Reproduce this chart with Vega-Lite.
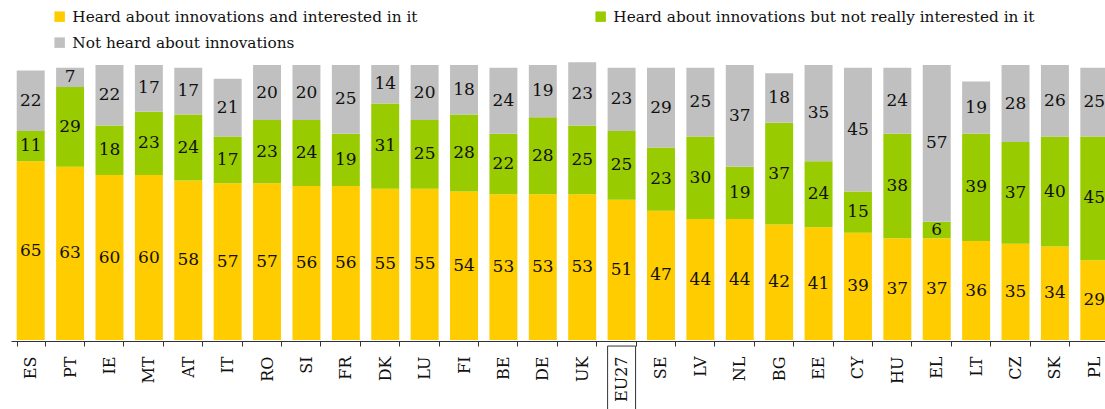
{
  "$schema": "https://vega.github.io/schema/vega-lite/v6.json",
  "width": 1094,
  "height": 275,
  "autosize": {"type": "none"},
  "padding": {"left": 11, "top": 65, "right": 0, "bottom": 69},
  "background": "white",
  "config": {"view": {"stroke": null}},
  "data": {
    "values": [
      {"c": "ES", "Heard about innovations and interested in it": 65, "Heard about innovations but not really interested in it": 11, "Not heard about innovations": 22},
      {"c": "PT", "Heard about innovations and interested in it": 63, "Heard about innovations but not really interested in it": 29, "Not heard about innovations": 7},
      {"c": "IE", "Heard about innovations and interested in it": 60, "Heard about innovations but not really interested in it": 18, "Not heard about innovations": 22},
      {"c": "MT", "Heard about innovations and interested in it": 60, "Heard about innovations but not really interested in it": 23, "Not heard about innovations": 17},
      {"c": "AT", "Heard about innovations and interested in it": 58, "Heard about innovations but not really interested in it": 24, "Not heard about innovations": 17},
      {"c": "IT", "Heard about innovations and interested in it": 57, "Heard about innovations but not really interested in it": 17, "Not heard about innovations": 21},
      {"c": "RO", "Heard about innovations and interested in it": 57, "Heard about innovations but not really interested in it": 23, "Not heard about innovations": 20},
      {"c": "SI", "Heard about innovations and interested in it": 56, "Heard about innovations but not really interested in it": 24, "Not heard about innovations": 20},
      {"c": "FR", "Heard about innovations and interested in it": 56, "Heard about innovations but not really interested in it": 19, "Not heard about innovations": 25},
      {"c": "DK", "Heard about innovations and interested in it": 55, "Heard about innovations but not really interested in it": 31, "Not heard about innovations": 14},
      {"c": "LU", "Heard about innovations and interested in it": 55, "Heard about innovations but not really interested in it": 25, "Not heard about innovations": 20},
      {"c": "FI", "Heard about innovations and interested in it": 54, "Heard about innovations but not really interested in it": 28, "Not heard about innovations": 18},
      {"c": "BE", "Heard about innovations and interested in it": 53, "Heard about innovations but not really interested in it": 22, "Not heard about innovations": 24},
      {"c": "DE", "Heard about innovations and interested in it": 53, "Heard about innovations but not really interested in it": 28, "Not heard about innovations": 19},
      {"c": "UK", "Heard about innovations and interested in it": 53, "Heard about innovations but not really interested in it": 25, "Not heard about innovations": 23},
      {"c": "EU27", "Heard about innovations and interested in it": 51, "Heard about innovations but not really interested in it": 25, "Not heard about innovations": 23},
      {"c": "SE", "Heard about innovations and interested in it": 47, "Heard about innovations but not really interested in it": 23, "Not heard about innovations": 29},
      {"c": "LV", "Heard about innovations and interested in it": 44, "Heard about innovations but not really interested in it": 30, "Not heard about innovations": 25},
      {"c": "NL", "Heard about innovations and interested in it": 44, "Heard about innovations but not really interested in it": 19, "Not heard about innovations": 37},
      {"c": "BG", "Heard about innovations and interested in it": 42, "Heard about innovations but not really interested in it": 37, "Not heard about innovations": 18},
      {"c": "EE", "Heard about innovations and interested in it": 41, "Heard about innovations but not really interested in it": 24, "Not heard about innovations": 35},
      {"c": "CY", "Heard about innovations and interested in it": 39, "Heard about innovations but not really interested in it": 15, "Not heard about innovations": 45},
      {"c": "HU", "Heard about innovations and interested in it": 37, "Heard about innovations but not really interested in it": 38, "Not heard about innovations": 24},
      {"c": "EL", "Heard about innovations and interested in it": 37, "Heard about innovations but not really interested in it": 6, "Not heard about innovations": 57},
      {"c": "LT", "Heard about innovations and interested in it": 36, "Heard about innovations but not really interested in it": 39, "Not heard about innovations": 19},
      {"c": "CZ", "Heard about innovations and interested in it": 35, "Heard about innovations but not really interested in it": 37, "Not heard about innovations": 28},
      {"c": "SK", "Heard about innovations and interested in it": 34, "Heard about innovations but not really interested in it": 40, "Not heard about innovations": 26},
      {"c": "PL", "Heard about innovations and interested in it": 29, "Heard about innovations but not really interested in it": 45, "Not heard about innovations": 25}
    ]
  },
  "transform": [
    {"fold": ["Heard about innovations and interested in it", "Heard about innovations but not really interested in it", "Not heard about innovations"], "as": ["s", "v"]},
    {"stack": "v", "groupby": ["c"], "sort": [{"field": "s", "order": "ascending"}], "as": ["v0", "v1"]},
    {"calculate": "(datum.v0 + datum.v1) / 2", "as": "mid"}
  ],
  "encoding": {
    "x": {
      "field": "c",
      "type": "nominal",
      "scale": {
        "domain": ["ES","PT","IE","MT","AT","IT","RO","SI","FR","DK","LU","FI","BE","DE","UK","EU27","SE","LV","NL","BG","EE","CY","HU","EL","LT","CZ","SK","PL"],
        "range": [0, 1103],
        "paddingInner": 0.29,
        "paddingOuter": 0.145
      },
      "axis": {
        "title": null,
        "labelAngle": 270,
        "labelAlign": "right",
        "labelBaseline": "middle",
        "labelFont": "DejaVu Serif",
        "labelFontSize": 16,
        "labelColor": "#111111",
        "labelPadding": 10,
        "tickBand": "extent",
        "tickSize": 5,
        "tickColor": "#333333",
        "domainColor": "#333333",
        "offset": 1
      }
    }
  },
  "layer": [
    {
      "mark": {"type": "bar"},
      "encoding": {
        "y": {"field": "v1", "type": "quantitative", "scale": {"domain": [0, 100]}, "axis": null},
        "y2": {"field": "v0"},
        "color": {
          "field": "s",
          "type": "nominal",
          "scale": {
            "domain": ["Heard about innovations and interested in it", "Heard about innovations but not really interested in it", "Not heard about innovations"],
            "range": ["#FFCC00", "#99CC00", "#C0C0C0"]
          },
          "legend": {
            "orient": "none",
            "legendX": 41,
            "legendY": -56,
            "direction": "horizontal",
            "columns": 2,
            "columnPadding": 175,
            "rowPadding": 10,
            "title": null,
            "symbolType": "square",
            "symbolSize": 110,
            "symbolStrokeWidth": 0,
            "symbolOpacity": 1,
            "labelFont": "DejaVu Serif",
            "labelFontSize": 15.3,
            "labelColor": "#111111",
            "labelOffset": 5,
            "labelLimit": 600
          }
        }
      }
    },
    {
      "mark": {"type": "text", "font": "DejaVu Serif", "fontSize": 17, "color": "#111111", "baseline": "middle", "align": "center"},
      "encoding": {
        "y": {"field": "mid", "type": "quantitative"},
        "text": {"field": "v", "type": "quantitative"}
      }
    },
    {
      "transform": [{"filter": "datum.c == 'EU27' && datum.s == 'Not heard about innovations'"}],
      "mark": {"type": "bar", "fillOpacity": 0, "stroke": "#333333", "strokeWidth": 1},
      "encoding": {
        "y": {"datum": -2.2, "type": "quantitative"},
        "y2": {"datum": -30}
      }
    }
  ]
}
